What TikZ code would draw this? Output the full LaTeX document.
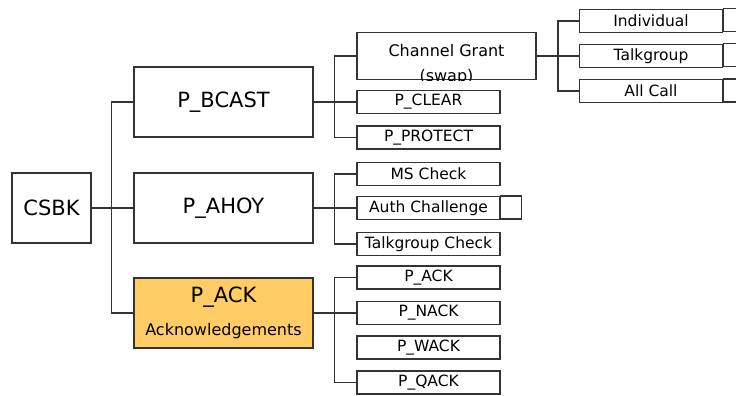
\documentclass[tikz,border=0pt]{standalone}
\usepackage{fontspec}
\setmainfont{DejaVu Sans}
\definecolor{ackfill}{HTML}{FFCC66}
\definecolor{edge}{HTML}{333333}
\begin{document}
\begin{tikzpicture}[
  x=1pt, y=-1pt,
  bigbox/.style={rectangle, draw=edge, line width=1.2pt, minimum width=179pt, minimum height=70pt, inner sep=0pt, font=\fontsize{21}{23}\selectfont},
  cell/.style={rectangle, draw=edge, line width=1.2pt, minimum width=143pt, minimum height=23pt, inner sep=0pt, font=\fontsize{15.5}{18}\selectfont},
  link/.style={draw=edge, line width=1.2pt}
]
  \useasboundingbox (0,0) rectangle (736,396);
  \clip (0,0) rectangle (736,396);

  % first and second level
  \node[bigbox, minimum width=79pt] (csbk) at (51.5,208) {CSBK};
  \node[bigbox] (bcast) at (223.5,102) {P\_BCAST};
  \node[bigbox] (ahoy) at (223.5,208) {P\_AHOY};
  \node[bigbox, fill=ackfill, align=center] (ack) at (223.5,313)
    {P\_ACK\\[10pt]{\fontsize{16}{18}\selectfont Acknowledgements}};

  % channel grant, text runs into the bottom edge
  \node[cell, minimum width=179pt, minimum height=47pt] (grant) at (446.5,56) {};
  \begin{scope}
    \clip (grant.north west) rectangle (grant.south east);
    \node[align=center, font=\fontsize{16}{25}\selectfont] (granttext) at (446.5,65) {Channel Grant\\(swap)};
  \end{scope}

  \foreach \n/\y/\t in {clear/102/P\_CLEAR, protect/137.5/P\_PROTECT,
                        mscheck/174/MS Check, auth/208/Auth Challenge, tgcheck/244/Talkgroup Check,
                        pack/277.5/P\_ACK, pnack/313/P\_NACK, pwack/347.5/P\_WACK, pqack/382.5/P\_QACK}
    \node[cell] (\n) at (428.5,\y) {\t};

  \foreach \n/\y/\t in {indiv/21/Individual, tgroup/56/Talkgroup, allcall/91/All Call}
    \node[cell] (\n) at (651,\y) {\t};

  % spare fields
  \foreach \n in {indiv, tgroup, allcall}
    \draw[link] (\n.north east) rectangle ++(20,23);
  \draw[link] (auth.north east) rectangle ++(21,23);

  % tree lines
  \draw[link] (csbk) -- (ahoy);
  \draw[link] (bcast.west) -- +(-22,0) |- (ack.west);
  \draw[link] (bcast.east) -- (clear.west);
  \draw[link] (grant.west) -- +(-22,0) |- (protect.west);
  \draw[link] (ahoy.east) -- (auth.west);
  \draw[link] (mscheck.west) -- +(-22,0) |- (tgcheck.west);
  \draw[link] (ack.east) -- (pnack.west);
  \draw[link] (pack.west) -- +(-22,0) |- (pqack.west);
  \draw[link] (grant.east) -- (tgroup.west);
  \draw[link] (indiv.west) -- +(-21,0) |- (allcall.west);
\end{tikzpicture}
\end{document}
